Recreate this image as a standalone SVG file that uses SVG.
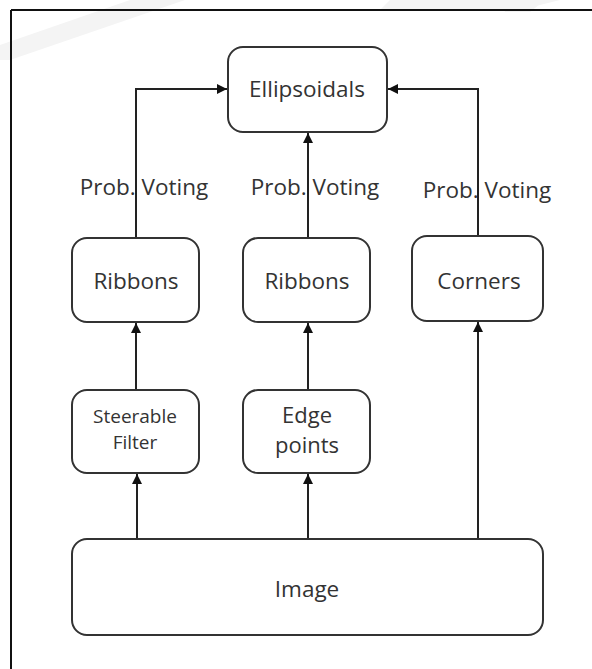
<svg xmlns="http://www.w3.org/2000/svg" width="592" height="669" viewBox="0 0 592 669">
  <style>
    .box { fill: #ffffff; stroke: #333333; stroke-width: 2; }
    .lbl { font-family: "Open Sans", "Noto Sans", sans-serif; fill: #333333; text-anchor: middle; }
    .big { font-size: 22.5px; }
    .pair { font-size: 22px; }
    .small { font-size: 19px; }
    .edge { fill: none; stroke: #222222; stroke-width: 2; }
    .frame { stroke: #111111; stroke-width: 2; }
    .mark { fill: #f4f4f4; }
  </style>
  <defs>
    <marker id="arrow" viewBox="0 0 10 10" refX="10" refY="5" markerWidth="5.5" markerHeight="5" orient="auto" markerUnits="strokeWidth">
      <path d="M0,0 L10,5 L0,10 z" fill="#111111"/>
    </marker>
  </defs>

  <rect width="592" height="669" fill="#ffffff"/>

  <!-- faint background banding -->
  <g id="banding">
    <polygon class="mark" points="130,0 185,0 10,60 0,60 0,45"/>
    <polygon class="mark" points="390,0 560,0 520,10 380,10"/>
    <polygon class="mark" points="500,0 545,0 530,12 505,12"/>
  </g>

  <!-- frame -->
  <g id="frame">
    <line class="frame" x1="11" y1="10" x2="592" y2="10"/>
    <line class="frame" x1="11" y1="10" x2="11" y2="669"/>
  </g>

  <!-- connectors -->
  <g id="connectors">
    <polyline class="edge" points="136,238 136,89 227,89" marker-end="url(#arrow)"/>
    <line class="edge" x1="308" y1="238" x2="308" y2="133" marker-end="url(#arrow)"/>
    <polyline class="edge" points="478,236 478,89 388,89" marker-end="url(#arrow)"/>
    <line class="edge" x1="136" y1="390" x2="136" y2="323" marker-end="url(#arrow)"/>
    <line class="edge" x1="308" y1="390" x2="308" y2="323" marker-end="url(#arrow)"/>
    <line class="edge" x1="137" y1="539" x2="137" y2="474" marker-end="url(#arrow)"/>
    <line class="edge" x1="308" y1="539" x2="308" y2="474" marker-end="url(#arrow)"/>
    <line class="edge" x1="478" y1="539" x2="478" y2="322" marker-end="url(#arrow)"/>
    <text class="lbl big" x="144" y="195">Prob. Voting</text>
    <text class="lbl big" x="315" y="195">Prob. Voting</text>
    <text class="lbl big" x="487" y="198">Prob. Voting</text>
  </g>

  <g id="ellipsoidals">
    <rect class="box" x="228" y="47" width="159" height="85" rx="15"/>
    <text class="lbl big" x="307" y="97">Ellipsoidals</text>
  </g>
  <g id="ribbons-left">
    <rect class="box" x="72" y="238" width="127" height="84" rx="15"/>
    <text class="lbl big" x="136" y="289">Ribbons</text>
  </g>
  <g id="ribbons-mid">
    <rect class="box" x="243" y="238" width="127" height="84" rx="15"/>
    <text class="lbl big" x="307" y="289">Ribbons</text>
  </g>
  <g id="corners">
    <rect class="box" x="412" y="236" width="131" height="85" rx="15"/>
    <text class="lbl big" x="479" y="289">Corners</text>
  </g>
  <g id="steerable-filter">
    <rect class="box" x="72" y="390" width="127" height="83" rx="15"/>
    <text class="lbl small" x="135" y="423">Steerable</text>
    <text class="lbl small" x="135" y="449">Filter</text>
  </g>
  <g id="edge-points">
    <rect class="box" x="243" y="390" width="127" height="83" rx="15"/>
    <text class="lbl pair" x="307" y="423">Edge</text>
    <text class="lbl pair" x="307" y="453">points</text>
  </g>
  <g id="image">
    <rect class="box" x="72" y="539" width="471" height="96" rx="15"/>
    <text class="lbl big" x="307" y="597">Image</text>
  </g>
</svg>
